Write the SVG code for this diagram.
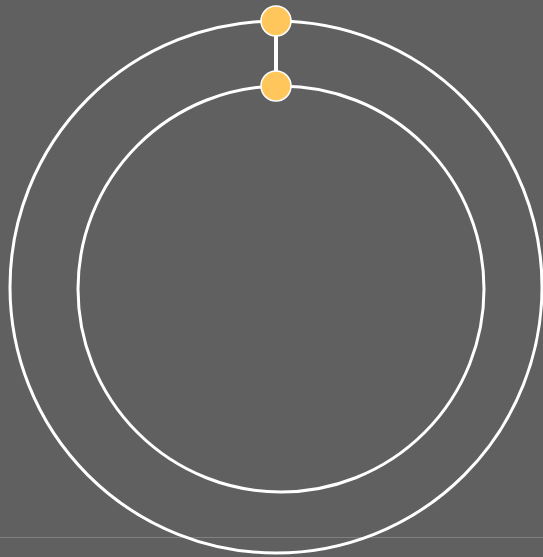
<svg xmlns="http://www.w3.org/2000/svg" width="543" height="557" viewBox="0 0 543 557">
<style>
.ring{fill:none;stroke:#ffffff;stroke-width:3}
.node{fill:#ffc65c;stroke:#ffffff;stroke-width:1.5}
.edge{stroke:#ffffff;stroke-width:4}
</style>
<rect x="0" y="0" width="543" height="557" fill="#606060"/>
<line x1="0" y1="537.5" x2="543" y2="537.5" stroke="#808080" stroke-width="1"/>
<circle class="ring" cx="276" cy="287" r="266"/>
<circle class="ring" cx="281" cy="289" r="203"/>
<g id="connectors">
<line class="edge" x1="276" y1="21" x2="276" y2="86"/>
</g>
<g id="node-outer"><circle class="node" cx="276" cy="21" r="15"/></g>
<g id="node-inner"><circle class="node" cx="276" cy="86" r="15"/></g>
</svg>
